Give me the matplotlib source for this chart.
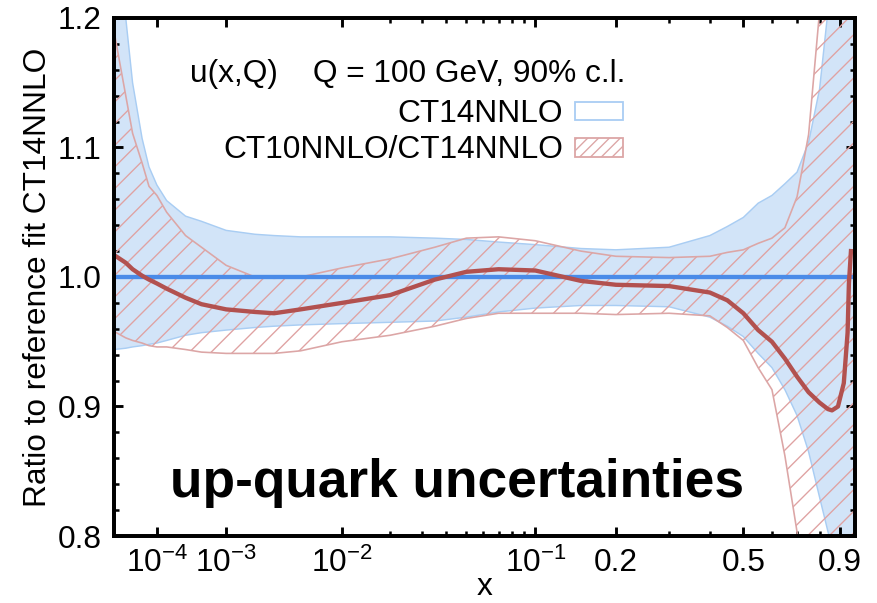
import matplotlib
matplotlib.use("Agg")
import matplotlib.pyplot as plt
import numpy as np
from matplotlib.patches import Rectangle
from matplotlib.ticker import FixedLocator, MultipleLocator, FormatStrFormatter

plt.rcParams['font.family'] = ['Liberation Sans', 'DejaVu Sans']
plt.rcParams['mathtext.fontset'] = 'custom'
plt.rcParams['mathtext.rm'] = 'Liberation Sans'
plt.rcParams['mathtext.default'] = 'regular'
plt.rcParams['hatch.linewidth'] = 0.75

# x grid of the error bands
x_band = [9e-6, 2e-5, 3e-5, 5e-5, 7e-5, 1e-4, 1.5e-4, 3e-4, 5e-4, 1e-3,
          2e-3, 3e-3, 5e-3, 1e-2, 2e-2, 3.5e-2, 5e-2, 7e-2, 0.1, 0.15,
          0.2, 0.3, 0.4, 0.45, 0.5, 0.55, 0.6, 0.65, 0.7, 0.75,
          0.8, 0.85, 0.9, 0.95, 0.98]

# CT14NNLO 90% c.l. band (relative to CT14NNLO central)
ct14_hi = [1.30, 1.20, 1.150, 1.107, 1.085, 1.071, 1.059, 1.047, 1.043, 1.036,
           1.033, 1.032, 1.031, 1.031, 1.031, 1.030, 1.029, 1.027, 1.025, 1.022,
           1.021, 1.023, 1.032, 1.039, 1.046, 1.057, 1.063, 1.072, 1.081, 1.104,
           1.145, 1.22, 1.5, 1.5, 1.5]
ct14_lo = [0.944, 0.945, 0.946, 0.947, 0.948, 0.949, 0.951, 0.955, 0.957, 0.959,
           0.961, 0.962, 0.963, 0.964, 0.965, 0.966, 0.969, 0.973, 0.976, 0.978,
           0.978, 0.977, 0.969, 0.962, 0.954, 0.941, 0.930, 0.913, 0.893, 0.865,
           0.830, 0.797, 0.6, 0.5, 0.5]

# CT10NNLO band divided by CT14NNLO
ct10_hi = [1.19, 1.14, 1.111, 1.088, 1.070, 1.063, 1.050, 1.032, 1.023, 1.009,
           1.000, 0.999, 1.000, 1.007, 1.014, 1.023, 1.030, 1.031, 1.028, 1.020,
           1.016, 1.015, 1.016, 1.019, 1.021, 1.026, 1.030, 1.038, 1.062, 1.110,
           1.205, 1.4, 1.5, 1.5, 1.5]
ct10_lo = [0.958, 0.953, 0.951, 0.949, 0.947, 0.946, 0.946, 0.944, 0.942, 0.941,
           0.941, 0.941, 0.943, 0.950, 0.955, 0.962, 0.968, 0.972, 0.972, 0.972,
           0.971, 0.972, 0.970, 0.961, 0.951, 0.930, 0.913, 0.862, 0.803, 0.7,
           0.6, 0.5, 0.5, 0.5, 0.5]

# CT10NNLO central / CT14NNLO central
ratio_x = [9e-6, 2e-5, 3e-5, 5e-5, 7e-5, 1e-4, 1.5e-4, 3e-4, 5e-4, 1e-3,
           2e-3, 3e-3, 5e-3, 1e-2, 2e-2, 3.5e-2, 5e-2, 7e-2, 0.1, 0.15,
           0.2, 0.3, 0.4, 0.45, 0.5, 0.55, 0.6, 0.65, 0.7, 0.75,
           0.8, 0.84, 0.86, 0.89, 0.92, 0.94, 0.947, 0.958]
ratio_y = [1.017, 1.011, 1.006, 1.001, 0.998, 0.995, 0.991, 0.984, 0.979, 0.975,
           0.973, 0.972, 0.975, 0.980, 0.986, 0.998, 1.004, 1.006, 1.005, 0.997,
           0.994, 0.993, 0.988, 0.982, 0.972, 0.959, 0.950, 0.937, 0.923, 0.911,
           0.903, 0.898, 0.897, 0.900, 0.918, 0.957, 0.995, 1.020]

x_major = [1e-4, 1e-3, 1e-2, 0.1, 0.2, 0.5, 0.9]
x_major_labels = [r'$10^{-4}$', r'$10^{-3}$', r'$10^{-2}$', r'$10^{-1}$', '0.2', '0.5', '0.9']
x_minor = [0.02, 0.03, 0.04, 0.05, 0.06, 0.07, 0.08, 0.09, 0.3, 0.4, 0.6, 0.7, 0.8]

blue_line = '#4a8be8'
blue_fill = '#d2e4f8'
blue_edge = '#a9cdf3'
red_line = '#b2514f'
red_edge = '#dca6a6'
red_hatch = '#dfa2a2'

P = 0.223


def fwd(x):
    return np.power(np.clip(x, 1e-12, None), P)


def inv(y):
    return np.power(np.clip(y, 1e-12, None), 1.0 / P)


fig = plt.figure(figsize=(877 / 130, 603 / 130), dpi=130)
ax = fig.add_axes([114 / 877, 1 - 536 / 603, 741 / 877, 518 / 603])
ax.set_xscale('function', functions=(fwd, inv))

ax.fill_between(x_band, ct14_lo, ct14_hi, facecolor=blue_fill, edgecolor='none', zorder=1)
ax.plot(x_band, ct14_hi, color=blue_edge, lw=0.8, zorder=2)
ax.plot(x_band, ct14_lo, color=blue_edge, lw=0.8, zorder=2)

ax.fill_between(x_band, ct10_lo, ct10_hi, facecolor='none', edgecolor=red_hatch,
                linewidth=0, hatch='//', zorder=3)
ax.plot(x_band, ct10_hi, color=red_edge, lw=0.9, zorder=4)
ax.plot(x_band, ct10_lo, color=red_edge, lw=0.9, zorder=4)

ax.axhline(1.0, color=blue_line, lw=2.4, zorder=5)
ax.plot(ratio_x, ratio_y, color=red_line, lw=2.4, zorder=6)

ax.set_xlim(9e-6, 0.98)
ax.set_ylim(0.8, 1.2)

ax.xaxis.set_major_locator(FixedLocator(x_major))
ax.xaxis.set_minor_locator(FixedLocator(x_minor))
ax.set_xticklabels(x_major_labels)
ax.xaxis.set_minor_formatter(plt.NullFormatter())
ax.yaxis.set_major_locator(MultipleLocator(0.1))
ax.yaxis.set_minor_locator(MultipleLocator(0.02))
ax.yaxis.set_major_formatter(FormatStrFormatter('%.1f'))

ax.tick_params(which='both', direction='in', top=True, right=True, labelsize=17.5)
ax.tick_params(which='major', length=5, width=1.6)
ax.tick_params(which='minor', length=3, width=1.4)
ax.tick_params(axis='x', which='major', pad=6.5)
ax.tick_params(axis='y', which='major', pad=7)
for s in ax.spines.values():
    s.set_linewidth(2.2)
    s.set_zorder(10)

ax.set_ylabel('Ratio to reference fit CT14NNLO', fontsize=17.5)
ax.yaxis.set_label_coords(-0.082, 0.5)
ax.set_xlabel('x', fontsize=17.5)
ax.xaxis.set_label_coords(0.5, -0.069)

ax.text(0.1026, 0.876, 'u(x,Q)    Q = 100 GeV, 90% c.l.', transform=ax.transAxes,
        fontsize=17.5, ha='left', va='baseline')
ax.text(0.606, 0.800, 'CT14NNLO', transform=ax.transAxes, fontsize=17.5,
        ha='right', va='baseline')
ax.text(0.606, 0.730, 'CT10NNLO/CT14NNLO', transform=ax.transAxes, fontsize=17.5,
        ha='right', va='baseline')
ax.add_patch(Rectangle((0.622, 0.803), 0.065, 0.035, transform=ax.transAxes,
                       facecolor='white', edgecolor=blue_edge, lw=1.0, zorder=7))
ax.add_patch(Rectangle((0.622, 0.732), 0.065, 0.036, transform=ax.transAxes,
                       facecolor='white', edgecolor=red_edge, lw=1.0, hatch='////', zorder=7))

ax.text(0.0756, 0.0753, 'up-quark uncertainties', transform=ax.transAxes,
        fontsize=29.5, fontweight='bold', ha='left', va='baseline', zorder=8)

fig.savefig('out.png', dpi=130)
